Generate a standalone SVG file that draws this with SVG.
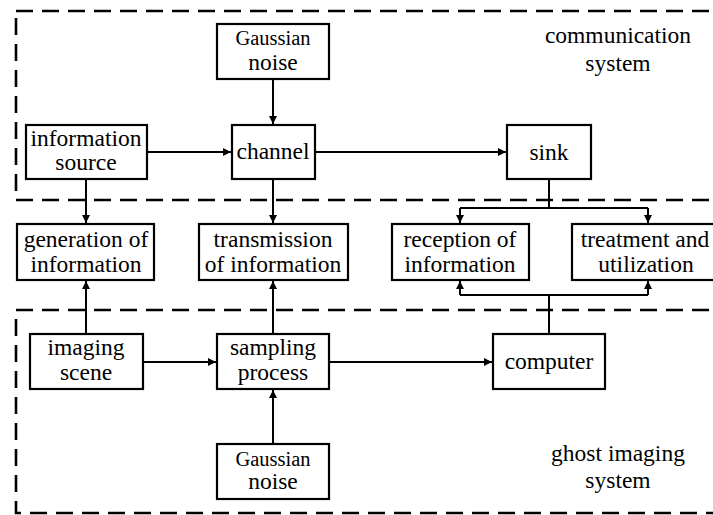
<svg xmlns="http://www.w3.org/2000/svg" width="713" height="515" viewBox="0 0 713 515">
<style>
.frame{fill:none;stroke:#000;stroke-width:2.6;stroke-dasharray:17 9}
.box{fill:#fff;stroke:#000;stroke-width:2.2}
.lbl{font-family:'Liberation Serif',serif;font-size:23.5px;fill:#000;text-anchor:middle}
.small{font-size:20.5px}
.conn{fill:none;stroke:#000;stroke-width:2}
</style>
<defs>
<marker id="ah" viewBox="0 0 10 10" refX="10" refY="5" markerWidth="9" markerHeight="8" markerUnits="userSpaceOnUse" orient="auto">
<path d="M0,0 L10,5 L0,10 Z" fill="#000"/>
</marker>
</defs>
<rect x="0" y="0" width="713" height="515" fill="#fff"/>
<g id="systems">
<rect class="frame" x="16" y="11" width="720" height="189"/>
<rect class="frame" x="16" y="310" width="720" height="203"/>
<text class="lbl" x="618" y="43">communication</text>
<text class="lbl" x="618" y="71">system</text>
<text class="lbl" x="618" y="461">ghost imaging</text>
<text class="lbl" x="618" y="488">system</text>
</g>
<g id="connectors">
<path class="conn" d="M273,79 V124" marker-end="url(#ah)"/>
<path class="conn" d="M147,152 H231" marker-end="url(#ah)"/>
<path class="conn" d="M315,152 H506" marker-end="url(#ah)"/>
<path class="conn" d="M86,179 V223" marker-end="url(#ah)"/>
<path class="conn" d="M273,179 V223" marker-end="url(#ah)"/>
<path class="conn" d="M549,179 V208"/>
<path class="conn" d="M460,208 H648"/>
<path class="conn" d="M460,208 V223" marker-end="url(#ah)"/>
<path class="conn" d="M648,208 V223" marker-end="url(#ah)"/>
<path class="conn" d="M86,334 V281" marker-end="url(#ah)"/>
<path class="conn" d="M273,334 V281" marker-end="url(#ah)"/>
<path class="conn" d="M549,334 V295"/>
<path class="conn" d="M460,295 H648"/>
<path class="conn" d="M460,295 V281" marker-end="url(#ah)"/>
<path class="conn" d="M648,295 V281" marker-end="url(#ah)"/>
<path class="conn" d="M143,362 H216" marker-end="url(#ah)"/>
<path class="conn" d="M329,362 H492" marker-end="url(#ah)"/>
<path class="conn" d="M273,444 V390" marker-end="url(#ah)"/>
</g>
<g id="gaussian-noise-top">
<rect class="box" x="217" y="24" width="112" height="55"/>
<text class="lbl small" x="273" y="45">Gaussian</text>
<text class="lbl" x="273" y="70">noise</text>
</g>
<g id="information-source">
<rect class="box" x="26" y="125" width="121" height="54"/>
<text class="lbl" x="86" y="146">information</text>
<text class="lbl" x="86" y="170">source</text>
</g>
<g id="channel">
<rect class="box" x="232" y="125" width="83" height="54"/>
<text class="lbl" x="273" y="159">channel</text>
</g>
<g id="sink">
<rect class="box" x="507" y="125" width="84" height="54"/>
<text class="lbl" x="549" y="160">sink</text>
</g>
<g id="generation">
<rect class="box" x="17" y="224" width="137" height="56"/>
<text class="lbl" x="86" y="247">generation of</text>
<text class="lbl" x="86" y="272">information</text>
</g>
<g id="transmission">
<rect class="box" x="199" y="224" width="149" height="56"/>
<text class="lbl" x="273" y="247">transmission</text>
<text class="lbl" x="273" y="272">of information</text>
</g>
<g id="reception">
<rect class="box" x="392" y="224" width="137" height="56"/>
<text class="lbl" x="460" y="247">reception of</text>
<text class="lbl" x="460" y="272">information</text>
</g>
<g id="treatment">
<rect class="box" x="572" y="224" width="150" height="56"/>
<text class="lbl" x="645" y="247">treatment and</text>
<text class="lbl" x="646" y="272">utilization</text>
</g>
<g id="imaging-scene">
<rect class="box" x="30" y="334" width="113" height="55"/>
<text class="lbl" x="86" y="355">imaging</text>
<text class="lbl" x="86" y="380">scene</text>
</g>
<g id="sampling-process">
<rect class="box" x="217" y="334" width="112" height="55"/>
<text class="lbl" x="273" y="355">sampling</text>
<text class="lbl" x="273" y="380">process</text>
</g>
<g id="computer">
<rect class="box" x="493" y="334" width="112" height="55"/>
<text class="lbl" x="549" y="369">computer</text>
</g>
<g id="gaussian-noise-bottom">
<rect class="box" x="217" y="444" width="112" height="55"/>
<text class="lbl small" x="273" y="466">Gaussian</text>
<text class="lbl" x="273" y="489">noise</text>
</g>
</svg>
